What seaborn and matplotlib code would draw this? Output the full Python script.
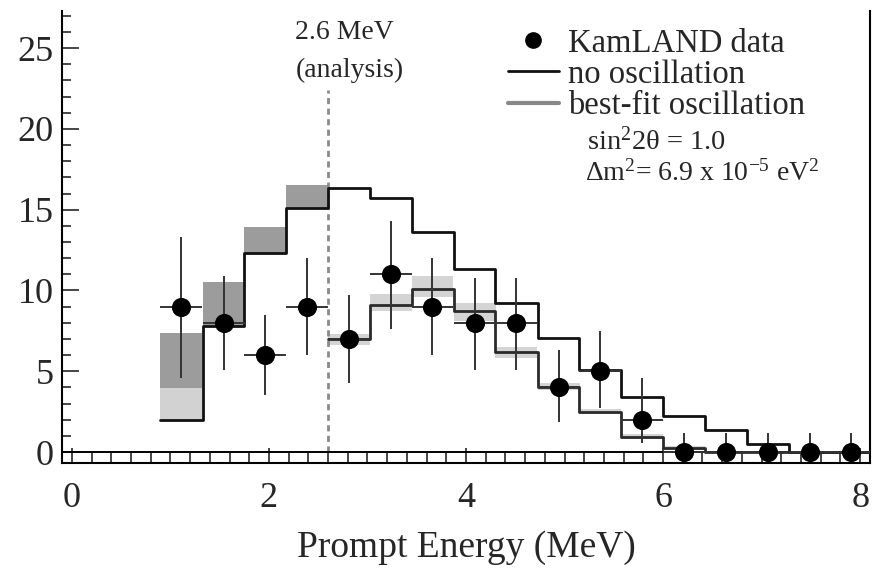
import matplotlib
matplotlib.use("Agg")
import matplotlib.pyplot as plt
from matplotlib.lines import Line2D
from matplotlib.ticker import MultipleLocator
import numpy as np
import pandas as pd
import seaborn as sns

# ---------------- data ----------------
bin_centers = [1.11, 1.54, 1.96, 2.39, 2.81, 3.24, 3.66, 4.09, 4.51,
               4.94, 5.36, 5.79, 6.21, 6.64, 7.06, 7.49, 7.91]
bin_width = 0.425
counts = [9, 8, 6, 9, 7, 11, 9, 8, 8, 4, 5, 2, 0, 0, 0, 0, 0]
err_hi = [4.3, 2.9, 2.5, 3.0, 2.7, 3.3, 3.0, 2.8, 2.8, 2.3, 2.5, 2.6, 1.2, 1.2, 1.2, 1.2, 1.2]
err_lo = [4.4, 2.9, 2.5, 3.0, 2.7, 3.4, 3.0, 2.9, 2.9, 2.15, 2.3, 1.45, 0, 0, 0, 0, 0]

no_osc = [2.0, 7.8, 12.3, 15.1, 16.35, 15.7, 13.6, 11.3, 9.2, 7.05, 5.1, 3.4,
          2.25, 1.35, 0.5, 0.0, 0.0]
# best-fit oscillation, bins above 2.6 MeV (bins 5..17)
best_fit = [7.0, 9.1, 10.1, 8.7, 6.2, 4.05, 2.5, 0.95, 0.25, 0.0, 0.0, 0.0, 0.0]
band_lo = [6.6, 8.7, 9.6, 8.1, 5.85, 3.85, 2.35, 0.8, 0.1, 0.0, 0.0, 0.0, 0.0]
band_hi = [7.3, 9.8, 10.9, 9.2, 6.5, 4.25, 2.65, 1.1, 0.4, 0.0, 0.0, 0.0, 0.0]
# contributions below 2.6 MeV (bins 1..4)
geo_light_top = [3.95, 7.8, 12.3, 15.1]
geo_dark_top = [7.35, 10.5, 13.9, 16.5]

threshold = 2.6
xticks = [0, 2, 4, 6, 8]
yticks = [0, 5, 10, 15, 20, 25]

# ---------------- style ----------------
sns.set_style("ticks")
plt.rcParams["font.family"] = ["Liberation Serif", "DejaVu Serif"]
plt.rcParams["mathtext.fontset"] = "custom"
plt.rcParams["mathtext.rm"] = "Liberation Serif"
plt.rcParams["mathtext.it"] = "Liberation Serif"

W, H = 874, 568
fig = plt.figure(figsize=(W / 100, H / 100), dpi=100)
ax = fig.add_axes([62 / W, 1 - 463 / H, (870 - 62) / W, (463 - 11) / H])

centers = np.array(bin_centers)
lefts = centers - bin_width / 2
edges = np.append(lefts, lefts[-1] + bin_width)

# below-threshold boxes
n4 = len(geo_dark_top)
ax.bar(lefts[:n4], np.array(geo_light_top) - np.array(no_osc[:n4]),
       bottom=no_osc[:n4], width=bin_width, align="edge",
       color="#d2d2d2", edgecolor="none", zorder=1)
ax.bar(lefts[:n4], np.array(geo_dark_top) - np.array(geo_light_top),
       bottom=geo_light_top, width=bin_width, align="edge",
       color="#9c9c9c", edgecolor="none", zorder=1)

# best-fit uncertainty band
nb = len(best_fit)
ax.bar(lefts[-nb:], np.array(band_hi) - np.array(band_lo), bottom=band_lo,
       width=bin_width, align="edge", color="#d4d4d4", edgecolor="none", zorder=1)

# step histograms
df_no = pd.DataFrame({"E": edges, "N": list(no_osc) + [no_osc[-1]]})
sns.lineplot(data=df_no, x="E", y="N", drawstyle="steps-post", estimator=None,
             color="#111111", lw=2.0, ax=ax, zorder=3)
df_bf = pd.DataFrame({"E": edges[-nb - 1:], "N": list(best_fit) + [best_fit[-1]]})
sns.lineplot(data=df_bf, x="E", y="N", drawstyle="steps-post", estimator=None,
             color="#2a2a2a", lw=2.0, ax=ax, zorder=3)

# threshold line
ax.plot([threshold, threshold], [0, 22.4], ls=(0, (2.2, 1.6)), color="#8a8a8a",
        lw=2.0, zorder=2)

# data points
ax.errorbar(centers, counts, yerr=[err_lo, err_hi], xerr=bin_width / 2,
            fmt="none", ecolor="#333333", elinewidth=1.4, capsize=0, zorder=4)
sns.scatterplot(x=centers, y=counts, color="black", s=190, edgecolor="black",
                linewidth=0, ax=ax, zorder=5)

ax.axhline(0, color="black", lw=1.4, zorder=2)

# axes
ax.set_xlim(-0.1, 8.1)
ax.set_ylim(-0.68, 27.3)
ax.set_xticks(xticks)
ax.set_yticks(yticks)
ax.xaxis.set_minor_locator(MultipleLocator(0.2))
ax.yaxis.set_minor_locator(MultipleLocator(1))
ax.tick_params(axis="x", which="major", direction="in", length=11, width=1.2,
               labelsize=26, pad=14, top=False)
ax.tick_params(axis="x", which="minor", direction="in", length=7.3, width=1.2,
               top=False)
ax.tick_params(axis="y", which="major", direction="in", length=12, width=1.2,
               labelsize=26, pad=6, right=False)
ax.tick_params(axis="y", which="minor", direction="in", length=6.5, width=1.2,
               right=False)
for s in ["left", "bottom", "right"]:
    ax.spines[s].set_linewidth(1.5)
    ax.spines[s].set_color("black")
ax.spines["top"].set_visible(False)
ax.set_xlabel("Prompt Energy (MeV)", fontsize=27, labelpad=11)
ax.set_ylabel("")

# annotations
ax.text(2.77, 26.0, "2.6 MeV", ha="center", va="center", fontsize=20)
ax.text(2.82, 23.65, "(analysis)", ha="center", va="center", fontsize=20)

handles = [
    Line2D([], [], marker="o", ls="none", color="black", markersize=11),
    Line2D([], [], color="#111111", lw=2.0),
    Line2D([], [], color="#888888", lw=3.0),
]
labels = ["KamLAND data", "no oscillation", "best-fit oscillation"]
ax.legend(handles, labels, loc="upper left", bbox_to_anchor=(0.552, 0.962),
          frameon=False, fontsize=23.5, handlelength=1.56, handletextpad=0.28,
          labelspacing=0.02, borderaxespad=0, borderpad=0)

ax.text(0.650, 0.711, "sin$^{2}$2θ = 1.0", transform=ax.transAxes,
        ha="left", va="center", fontsize=20.5)
ax.text(0.647, 0.640, "Δm$^{2}$= 6.9 x 10$^{-5}$ eV$^{2}$", transform=ax.transAxes,
        ha="left", va="center", fontsize=20)

fig.savefig("out.png", dpi=100)
